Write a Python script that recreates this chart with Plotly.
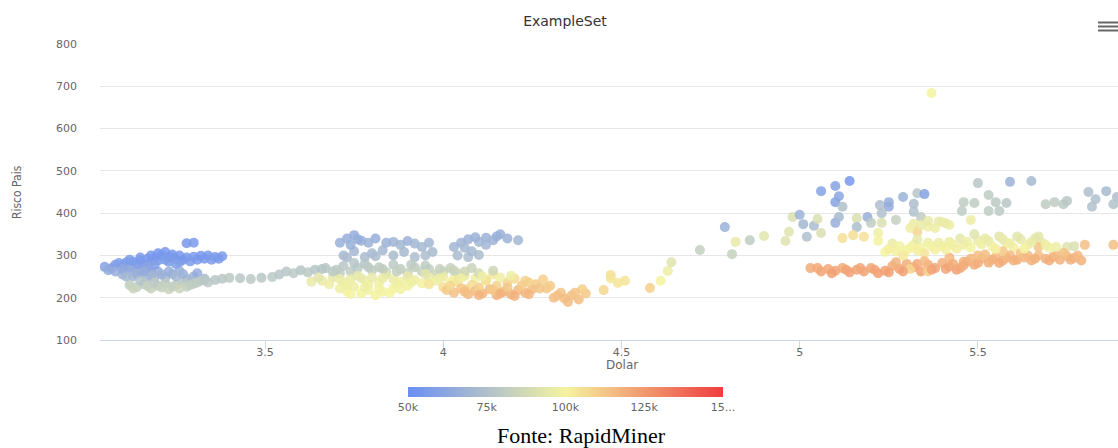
import plotly.graph_objects as go

# ---------------- data ----------------
# Dolar (x), Risco Pais (y), colour value in thousands
dolar = [
    # blue cluster
    3.05, 3.07, 3.08, 3.10, 3.11, 3.12, 3.13, 3.14, 3.15, 3.16, 3.17, 3.18, 3.19, 3.20, 3.21, 3.22,
    3.23, 3.23, 3.24, 3.25, 3.26, 3.27, 3.28, 3.29, 3.30, 3.31, 3.32, 3.33, 3.34, 3.36, 3.38, 3.28,
    3.30, 3.14, 3.16, 3.18,
    # grey-blue
    3.08, 3.10, 3.12, 3.13, 3.15, 3.17, 3.18, 3.20, 3.22, 3.24, 3.26, 3.28, 3.30, 3.29, 3.31, 3.33,
    # green band
    3.12, 3.14, 3.16, 3.18, 3.20, 3.22, 3.23, 3.25, 3.27, 3.28, 3.30, 3.32, 3.34, 3.36,
    # tail
    3.38, 3.40, 3.43, 3.46, 3.49, 3.52, 3.54, 3.56, 3.58, 3.60, 3.62, 3.64, 3.66,
    # grey-blue upper cluster
    3.71, 3.73, 3.75, 3.77, 3.79, 3.81, 3.86, 3.88, 3.90, 3.92, 3.94, 3.72, 3.75, 3.78, 3.80, 3.83,
    3.86, 3.89, 3.92, 3.97, 4.03, 4.05, 4.07, 4.10, 4.12, 4.14, 4.16, 4.18, 4.21, 4.04, 4.07, 4.10,
    4.06,
    # grey-green band
    3.67, 3.70, 3.72, 3.74, 3.76, 3.78, 3.80, 3.82, 3.84, 3.86, 3.88, 3.90, 3.92, 3.94, 3.96, 3.98,
    4.00, 4.02, 4.04,
    # yellow band
    3.63, 3.66, 3.69, 3.72, 3.74, 3.76, 3.78, 3.80, 3.82, 3.84, 3.86, 3.88, 3.90, 3.92, 3.94, 3.96,
    3.98, 4.00, 4.03, 4.06, 4.09, 4.12,
    # yellow lower
    3.71, 3.73, 3.75, 3.77, 3.79, 3.81, 3.83, 3.86, 3.90,
    # yellow-orange
    3.96, 4.00, 4.04, 4.08, 4.12, 4.15, 4.18, 4.20, 4.23, 4.26, 4.28, 4.14,
    # orange
    4.01, 4.03, 4.05, 4.07, 4.09, 4.11, 4.13, 4.15, 4.17, 4.19, 4.21, 4.23, 4.25,
    # orange right
    4.29, 4.31, 4.33, 4.35, 4.36, 4.38, 4.40, 4.39,
    # sparse 4.45 - 5.12
    4.45, 4.47, 4.47, 4.49, 4.51, 4.58, 4.61, 4.63, 4.64, 4.72, 4.79, 4.81, 4.82, 4.86, 4.90, 4.96,
    4.97, 4.98, 5.00, 5.01, 5.02, 5.04, 5.05, 5.06, 5.10, 5.10, 5.11, 5.12,
    # blue points near 5.1
    5.14, 5.10, 5.06, 5.11,
    # points 5.12 - 5.35
    5.16, 5.16, 5.19, 5.20, 5.225, 5.25, 5.25, 5.23, 5.23, 5.27, 5.29, 5.33, 5.35, 5.32, 5.32, 5.34,
    5.32, 5.36, 5.39, 5.42, 5.33, 5.12, 5.15, 5.18, 5.22, 5.22,
    # outlier
    5.37,
    # orange band 5.0 - 5.46
    5.03, 5.06, 5.08, 5.10, 5.12, 5.14, 5.16, 5.18, 5.20, 5.22, 5.24, 5.26, 5.28, 5.30, 5.32, 5.34,
    5.36, 5.38, 5.40, 5.42, 5.44, 5.46, 5.31, 5.36,
    # yellow band 5.24 - 5.44
    5.24, 5.27, 5.30, 5.32, 5.34, 5.36, 5.38, 5.40, 5.42, 5.44, 5.29, 5.35, 5.26, 5.33,
    # yellow band 5.45 - 5.77
    5.46, 5.48, 5.50, 5.52, 5.54, 5.56, 5.58, 5.60, 5.62, 5.64, 5.66, 5.68, 5.70, 5.75, 5.77, 5.45,
    5.49, 5.40, 5.48,
    # orange band 5.42 - 5.88
    5.45, 5.47, 5.49, 5.51, 5.53, 5.55, 5.57, 5.59, 5.61, 5.63, 5.65, 5.67, 5.69, 5.71, 5.73, 5.75,
    5.77, 5.79, 5.42, 5.52, 5.62, 5.67, 5.80, 5.88,
    # grey-green upper right
    5.50, 5.59, 5.65, 5.53, 5.46, 5.49, 5.55, 5.58, 5.455, 5.53, 5.56, 5.69, 5.715, 5.74, 5.75, 5.81,
    5.86, 5.89, 5.83, 5.88, 5.82,
    # denser fill, left clusters
    3.09, 3.12, 3.15, 3.18, 3.20, 3.24, 3.26, 3.22, 3.19, 3.17, 3.25, 3.35, 3.37,
    3.10, 3.14, 3.16, 3.19, 3.21, 3.23, 3.25, 3.27, 3.11, 3.06,
    3.15, 3.17, 3.21, 3.24, 3.26, 3.19, 3.29, 3.31, 3.33, 3.13,
    # denser fill, middle clusters
    3.74, 3.76, 3.84, 3.96, 4.08, 4.12, 4.15, 4.09, 3.73, 3.81, 3.95,
    3.69, 3.71, 3.75, 3.79, 3.83, 3.87, 3.91, 3.95, 3.99, 4.03, 4.06, 4.10, 4.14, 4.08,
    3.65, 3.68, 3.71, 3.73, 3.77, 3.79, 3.83, 3.87, 3.91, 3.95, 3.99, 4.02, 4.05, 4.11, 4.16, 4.19,
    3.74, 3.78, 3.82, 3.85, 3.88,
    4.02, 4.06, 4.10, 4.14, 4.18, 4.22, 4.24, 4.27, 4.30, 4.06, 4.10, 4.16, 4.20, 4.24, 4.32, 4.34, 4.37,
    # denser fill, right clusters
    5.05, 5.09, 5.13, 5.17, 5.21, 5.25, 5.29, 5.33, 5.37, 5.41, 5.43, 5.27, 5.35,
    5.46, 5.48, 5.50, 5.54, 5.56, 5.58, 5.60, 5.64, 5.66, 5.70, 5.72, 5.76, 5.78, 5.74, 5.50, 5.57,
    5.25, 5.28, 5.31, 5.33, 5.37, 5.39, 5.41, 5.43, 5.47, 5.51, 5.53, 5.55, 5.57, 5.59, 5.61, 5.63,
    5.65, 5.67, 5.69, 5.72,
    5.31, 5.34, 5.36, 5.38, 5.41,
]

risco = [
    273, 270, 278, 276, 283, 272, 285, 279, 288, 281, 292, 285, 294, 288, 300, 308,
    296, 285, 302, 291, 284, 289, 295, 286, 297, 290, 299, 292, 300, 296, 298, 329,
    330, 265, 270, 262,
    262, 255, 266, 250, 258, 245, 252, 262, 248, 256, 263, 245, 250, 238, 258, 245,
    230, 225, 232, 222, 228, 235, 220, 230, 238, 226, 233, 240, 236, 242,
    245, 247, 246, 244, 247, 249, 255, 262, 258, 265, 260, 266, 268,
    330, 340, 348, 335, 330, 340, 332, 325, 334, 328, 320, 300, 310, 296, 305, 312,
    300, 308, 296, 308, 320, 330, 338, 332, 342, 336, 350, 340, 336, 300, 296, 301,
    318,
    270, 266, 275, 262, 270, 280, 265, 272, 260, 278, 268, 258, 272, 262, 268, 255,
    262, 270, 258,
    238, 240, 248, 236, 244, 252, 240, 248, 236, 255, 244, 238, 250, 242, 234, 248,
    240, 250, 244, 252, 246, 240,
    222, 215, 226, 210, 218, 206, 214, 222, 228,
    232, 225, 238, 230, 242, 228, 236, 245, 240, 232, 243, 255,
    218, 212, 222, 208, 216, 210, 220, 206, 214, 208, 218, 212, 220,
    222, 200, 212, 190, 205, 196, 210, 220,
    218, 254, 246, 235, 240, 223, 240, 263, 284, 313, 367, 303, 332, 336, 346, 334,
    356, 391, 396, 374, 344, 370, 386, 353, 377, 426, 391, 415,
    476, 464, 452, 440,
    388, 367, 391, 377, 419, 426, 415, 400, 377, 384, 438, 447, 445, 422, 403, 391,
    375, 368, 380, 372, 356, 341, 348, 344, 353, 334,
    684,
    270, 262, 268, 264, 270, 260, 266, 262, 270, 258, 264, 275, 268, 280, 272, 262,
    278, 270, 282, 274, 266, 285, 268, 262,
    308, 310, 312, 325, 318, 330, 314, 322, 332, 316, 300, 305, 328, 338,
    325, 318, 335, 340, 322, 345, 330, 318, 338, 325, 340, 330, 318, 320, 322, 340,
    350, 379, 384,
    270, 285, 278, 292, 283, 296, 288, 300, 290, 295, 288, 300, 292, 296, 290, 298,
    294, 288, 295, 302, 305, 320, 325, 325,
    471, 474, 476, 443, 426, 424, 426, 424, 405, 405, 405, 421, 426, 421, 429, 450,
    452, 438, 433, 421, 415,
    # denser fill, left clusters
    282, 290, 295, 300, 305, 295, 300, 290, 278, 272, 280, 290, 292,
    268, 256, 262, 248, 255, 262, 250, 256, 250, 265,
    240, 228, 224, 226, 222, 236, 230, 236, 242, 222,
    # denser fill, middle clusters
    325, 338, 330, 330, 310, 325, 345, 343, 295, 298, 300,
    262, 258, 282, 272, 268, 262, 278, 276, 268, 264, 262, 258, 264, 270,
    248, 232, 244, 230, 246, 232, 246, 232, 236, 256, 246, 236, 246, 250, 248, 252,
    208, 224, 222, 212, 220,
    228, 220, 224, 218, 224, 228, 236, 222, 228, 214, 206, 210, 204, 208, 205, 198, 212,
    # denser fill, right clusters
    270, 258, 266, 270, 266, 260, 262, 280, 266, 268, 280, 284, 286,
    276, 292, 282, 290, 282, 294, 288, 300, 292, 288, 300, 290, 300, 306, 300, 310,
    315, 322, 318, 312, 322, 330, 314, 325, 332, 326, 334, 315, 338, 328, 345, 316,
    332, 345, 325, 320,
    365, 372, 382, 365, 376,
]

pib_k = [
    60, 60, 58, 58, 57, 60, 57, 58, 56, 57, 56, 57, 55, 56, 55, 55,
    56, 57, 55, 56, 58, 56, 55, 57, 56, 56, 55, 56, 55, 56, 56, 55,
    56, 60, 59, 60,
    66, 68, 65, 70, 68, 72, 70, 66, 71, 68, 66, 70, 68, 72, 65, 70,
    80, 82, 80, 83, 81, 79, 84, 80, 78, 82, 80, 78, 79, 78,
    78, 79, 78, 79, 78, 79, 77, 78, 79, 77, 79, 77, 76,
    67, 66, 65, 66, 68, 66, 69, 70, 68, 70, 71, 72, 71, 73, 72, 71,
    73, 72, 74, 72, 70, 69, 68, 70, 68, 69, 67, 68, 70, 73, 74, 73,
    71,
    78, 79, 78, 80, 79, 77, 81, 80, 82, 79, 81, 83, 81, 83, 82, 85,
    84, 83, 86,
    95, 96, 94, 97, 96, 94, 97, 95, 98, 93, 96, 98, 95, 97, 99, 96,
    98, 96, 98, 96, 98, 99,
    98, 99, 97, 100, 99, 100, 100, 99, 99,
    104, 106, 105, 107, 106, 109, 108, 107, 109, 111, 110, 103,
    112, 114, 113, 116, 115, 117, 115, 118, 117, 118, 116, 117, 115,
    112, 114, 113, 115, 114, 115, 112, 110,
    108, 105, 104, 104, 104, 110, 100, 97, 92, 82, 68, 83, 95, 80, 93, 92,
    92, 90, 68, 70, 75, 73, 90, 90, 66, 60, 72, 75,
    55, 60, 60, 62,
    90, 74, 66, 80, 74, 66, 65, 75, 90, 82, 68, 78, 60, 74, 75, 80,
    96, 98, 95, 97, 108, 105, 106, 105, 98, 100,
    100,
    120, 122, 121, 122, 120, 123, 122, 123, 121, 124, 123, 120, 122, 119, 121, 123,
    120, 122, 119, 121, 123, 118, 108, 110,
    100, 101, 100, 98, 100, 97, 101, 99, 97, 101, 103, 104, 96, 95,
    98, 100, 96, 95, 99, 93, 97, 101, 95, 98, 94, 96, 99, 92, 90, 94,
    92, 96, 97,
    121, 118, 120, 117, 120, 116, 119, 116, 119, 117, 118, 115, 118, 117, 118, 116,
    117, 118, 117, 115, 114, 113, 114, 114,
    78, 68, 72, 80, 80, 80, 79, 78, 80, 80, 79, 80, 80, 79, 78, 74,
    72, 74, 75, 76, 75,
    # denser fill, left clusters
    58, 57, 56, 55, 55, 56, 55, 57, 59, 61, 59, 57, 56,
    63, 67, 65, 70, 68, 66, 70, 68, 70, 64,
    76, 82, 83, 82, 84, 79, 81, 80, 78, 84,
    # denser fill, middle clusters
    67, 66, 68, 70, 71, 70, 67, 68, 73, 73, 74,
    79, 80, 77, 79, 81, 82, 80, 80, 83, 84, 86, 88, 86, 84,
    93, 97, 96, 98, 95, 98, 96, 98, 98, 93, 97, 99, 98, 97, 98, 97,
    100, 98, 99, 100, 99,
    108, 110, 110, 112, 112, 111, 110, 113, 111, 115, 117, 118, 118, 117, 114, 115, 113,
    # denser fill, right clusters
    121, 123, 122, 121, 122, 123, 123, 120, 122, 122, 120, 118, 116,
    120, 117, 119, 118, 120, 117, 118, 116, 118, 119, 116, 118, 116, 114, 115, 112,
    101, 99, 100, 101, 99, 97, 101, 98, 97, 98, 96, 101, 95, 97, 93, 100,
    96, 93, 97, 98,
    97, 96, 95, 97, 96,
]

pib = [v * 1000 for v in pib_k]

cbar_vals = [50000, 75000, 100000, 125000, 150000]
cbar_text = ["50k", "75k", "100k", "125k", "15..."]

title_text = "ExampleSet"
x_title = "Dolar"
y_title = "Risco Pais"
caption = "Fonte: RapidMiner"

x_ticks = [3.5, 4, 4.5, 5, 5.5]
y_ticks = [100, 200, 300, 400, 500, 600, 700, 800]

# ---------------- figure ----------------
W, H = 1118, 448
L, T, B = 100, 44, 108
plot_w = W - L
plot_h = H - T - B

def px_x(p):
    return (p - L) / plot_w

def px_y(p):
    return (H - B - p) / plot_h

colorscale = [[0.0, "#6a8ef5"], [0.5, "#f5f3a0"], [1.0, "#ee3e3e"]]
tick_font = dict(family="DejaVu Sans", size=11, color="#666666")

fig = go.Figure()
fig.add_trace(go.Scatter(
    x=dolar, y=risco, mode="markers",
    marker=dict(
        size=10, color=pib, colorscale=colorscale, cmin=50000, cmax=150000,
        opacity=0.85, line=dict(width=0),
        colorbar=dict(
            orientation="h", lenmode="pixels", len=315, thickness=10,
            x=px_x(565.5), xanchor="center", xref="paper", xpad=0,
            y=px_y(387), yanchor="top", yref="paper", ypad=0,
            outlinewidth=0, ticks="", tickvals=cbar_vals, ticktext=cbar_text,
            tickfont=tick_font, ticklabelposition="outside bottom",
        ),
    ),
    hoverinfo="x+y",
    showlegend=False,
))

fig.update_layout(
    width=W, height=H,
    margin=dict(l=L, r=0, t=T, b=B, pad=0, autoexpand=False),
    paper_bgcolor="white", plot_bgcolor="white",
    title=dict(text=title_text, x=565 / W, xanchor="center", y=1 - 21 / H, yanchor="middle",
               font=dict(family="DejaVu Sans", size=14, color="#333333")),
    xaxis=dict(
        range=[3.037, 5.893], tickvals=x_ticks, ticks="outside", ticklen=8, tickcolor="#ccd6eb",
        showgrid=False, zeroline=False, showline=True, linecolor="#ccd6eb", linewidth=1,
        tickfont=tick_font, ticklabelstandoff=-6,
    ),
    yaxis=dict(
        range=[100, 800], tickvals=y_ticks, showgrid=True, gridcolor="#e6e6e6", gridwidth=1,
        zeroline=False, showline=False, ticks="", tickfont=tick_font, ticklabelstandoff=22,
    ),
    annotations=[
        dict(text=x_title, xref="paper", yref="paper", x=px_x(622), y=px_y(365),
             xanchor="center", yanchor="middle", showarrow=False,
             font=dict(family="DejaVu Sans", size=12, color="#666666")),
        dict(text=y_title, xref="paper", yref="paper", x=px_x(17), y=px_y(192),
             xanchor="center", yanchor="middle", showarrow=False, textangle=-90,
             font=dict(family="DejaVu Sans Condensed, Liberation Sans Narrow, Roboto Condensed, sans-serif",
                       size=12, color="#666666")),
        dict(text=caption, xref="paper", yref="paper", x=px_x(581), y=px_y(435),
             xanchor="center", yanchor="middle", showarrow=False,
             font=dict(family="Liberation Serif", size=22, color="#000000")),
    ],
    shapes=[
        dict(type="line", xref="paper", yref="paper", x0=px_x(1098), x1=1.0,
             y0=px_y(yy), y1=px_y(yy), line=dict(color="#666666", width=2))
        for yy in (22.5, 26.5, 30.5)
    ],
)

fig.write_html(
    "out.html",
    config={"displayModeBar": False},
    post_script="document.body.style.margin='0';document.body.style.overflow='hidden';",
)
